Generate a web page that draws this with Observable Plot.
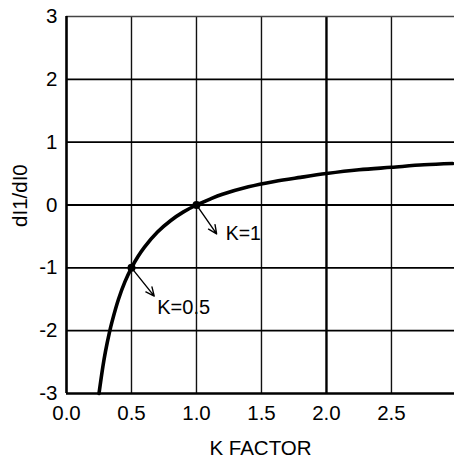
<!DOCTYPE html>
<html><head><meta charset="utf-8">
<script src="https://cdn.jsdelivr.net/npm/d3@7"></script>
<script src="https://cdn.jsdelivr.net/npm/@observablehq/plot@0.6"></script>
<style>body{margin:0;background:#fff}</style>
</head><body><div id="chart"></div>
<script>
const kValues = [0.25,0.28,0.3,0.33,0.35,0.4,0.45,0.5,0.55,0.6,0.7,0.8,0.9,1.0,1.1,1.2,1.4,1.6,1.8,2.0,2.25,2.5,2.75,2.97];
const ratioValues = [-3,-2.57,-2.33,-2.03,-1.86,-1.5,-1.22,-1,-0.82,-0.67,-0.43,-0.25,-0.11,0,0.09,0.17,0.29,0.375,0.44,0.5,0.56,0.6,0.64,0.66];
const markK = [1, 0.5];
const markRatio = [0, -1];
const markLabels = ["K=1", "K=0.5"];
const arrowEndK = [1.155, 0.675];
const arrowEndRatio = [-0.46, -1.45];
const xTicks = [0, 0.5, 1, 1.5, 2, 2.5];
const yTicks = [-3, -2, -1, 0, 1, 2, 3];
const xLabel = "K FACTOR";
const yLabel = "dI1/dI0";

const curve = kValues.map((k, i) => ({k, r: ratioValues[i]}));
const marks = markK.map((k, i) => ({k, r: markRatio[i], label: markLabels[i], k2: arrowEndK[i], r2: arrowEndRatio[i]}));
const FS = 19.5, AFS = 20.5;
const yDomain = [-3, 3];

const chart = Plot.plot({
  width: 454, height: 458,
  marginLeft: 66, marginRight: 0, marginTop: 16, marginBottom: 65,
  style: {fontFamily: "'Liberation Sans', Arial, sans-serif", fontSize: FS + "px", color: "#000", background: "#fff"},
  x: {domain: [0, 2.985], axis: null},
  y: {domain: yDomain, axis: null},
  marks: [
    Plot.ruleX(xTicks.filter(d => d > 0 && d !== 2), {stroke: "#111", strokeWidth: 1.4}),
    Plot.ruleX([2], {stroke: "#000", strokeWidth: 2.4}),
    Plot.ruleY(yTicks.filter(d => d > -3 && d < 3), {stroke: "#000", strokeWidth: 1.8}),
    Plot.ruleY([3], {stroke: "#444", strokeWidth: 1.5}),
    Plot.ruleX([0], {stroke: "#000", strokeWidth: 2.6}),
    Plot.ruleY([-3], {stroke: "#000", strokeWidth: 2.6}),
    Plot.text(xTicks, {x: d => d, text: d => d.toFixed(1), frameAnchor: "bottom", textAnchor: "middle", lineAnchor: "top", dy: 12, fontSize: AFS, fill: "#000"}),
    Plot.text(yTicks, {y: d => d, text: d => String(d), frameAnchor: "left", textAnchor: "end", lineAnchor: "middle", dx: -9, fontSize: AFS, fill: "#000"}),
    Plot.text([xLabel], {frameAnchor: "bottom", textAnchor: "middle", dy: 61, lineAnchor: "bottom", fontSize: AFS, fill: "#000"}),
    Plot.text([yLabel], {y: () => (yDomain[0] + yDomain[1]) / 2 + 0.15, frameAnchor: "left", textAnchor: "middle", rotate: -90, dx: -46, lineAnchor: "middle", fontSize: AFS, fill: "#000"}),
    Plot.line(curve, {x: "k", y: "r", stroke: "#000", strokeWidth: 3.6, curve: "catmull-rom"}),
    Plot.dot(marks, {x: "k", y: "r", r: 4, fill: "#000"}),
    Plot.arrow(marks, {x1: "k", y1: "r", x2: "k2", y2: "r2", stroke: "#000", strokeWidth: 1.4, headLength: 10, headAngle: 50, insetStart: 3}),
    Plot.text(marks.slice(0, 1), {x: "k2", y: "r2", text: "label", textAnchor: "start", dx: 9, dy: 0, fontSize: FS, fill: "#000"}),
    Plot.text(marks.slice(1), {x: "k2", y: "r2", text: "label", textAnchor: "start", dx: 3, dy: 11, fontSize: 20, fill: "#000"})
  ]
});
document.getElementById("chart").appendChild(chart);
</script></body></html>
